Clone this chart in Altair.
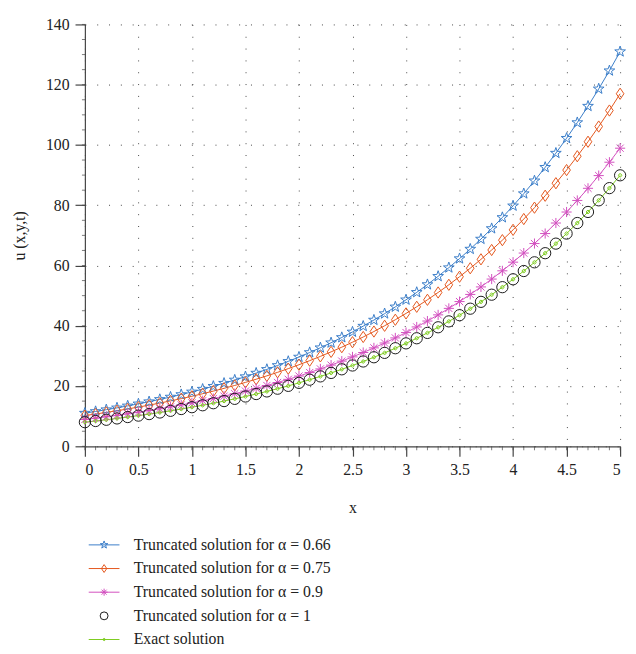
import altair as alt

# ---------------- data ----------------
x_vals = [round(i * 0.1, 1) for i in range(51)]

y_a066 = [11.00, 11.56, 12.15, 12.76, 13.41, 14.09, 14.81, 15.56, 16.35, 17.18,
          18.05, 18.97, 19.93, 20.94, 22.01, 23.12, 24.30, 25.53, 26.83, 28.19,
          29.62, 31.13, 32.71, 34.37, 36.12, 37.95, 39.88, 41.90, 44.03, 46.27,
          48.62, 51.09, 53.68, 56.41, 59.28, 62.29, 65.45, 68.78, 72.27, 75.94,
          79.80, 83.85, 88.11, 92.59, 97.29, 102.23, 107.43, 112.88, 118.62, 124.64,
          130.97]

y_a075 = [10.20, 10.71, 11.25, 11.81, 12.40, 13.02, 13.67, 14.35, 15.07, 15.82,
          16.61, 17.45, 18.32, 19.24, 20.20, 21.21, 22.27, 23.38, 24.55, 25.78,
          27.07, 28.42, 29.84, 31.34, 32.90, 34.55, 36.28, 38.09, 40.00, 42.00,
          44.10, 46.30, 48.62, 51.05, 53.60, 56.28, 59.09, 62.05, 65.15, 68.41,
          71.83, 75.42, 79.19, 83.15, 87.31, 91.67, 96.26, 101.07, 106.12, 111.43,
          117.00]

y_a090 = [8.90, 9.34, 9.80, 10.28, 10.79, 11.32, 11.88, 12.47, 13.08, 13.73,
          14.41, 15.12, 15.86, 16.65, 17.47, 18.33, 19.23, 20.18, 21.18, 22.22,
          23.32, 24.47, 25.68, 26.94, 28.27, 29.67, 31.13, 32.67, 34.28, 35.97,
          37.75, 39.61, 41.57, 43.62, 45.77, 48.03, 50.40, 52.89, 55.50, 58.24,
          61.11, 64.13, 67.29, 70.61, 74.10, 77.75, 81.59, 85.62, 89.84, 94.28,
          98.93]

y_a100 = [8.00, 8.40, 8.81, 9.25, 9.71, 10.19, 10.69, 11.22, 11.78, 12.37,
          12.98, 13.62, 14.30, 15.01, 15.75, 16.53, 17.35, 18.21, 19.12, 20.06,
          21.06, 22.10, 23.20, 24.35, 25.55, 26.82, 28.15, 29.55, 31.01, 32.55,
          34.16, 35.86, 37.63, 39.50, 41.46, 43.51, 45.67, 47.94, 50.31, 52.81,
          55.43, 58.17, 61.06, 64.09, 67.26, 70.60, 74.10, 77.77, 81.63, 85.68,
          89.93]

y_exact = [8.00, 8.40, 8.81, 9.25, 9.71, 10.19, 10.69, 11.22, 11.78, 12.37,
           12.98, 13.62, 14.30, 15.01, 15.75, 16.53, 17.35, 18.21, 19.12, 20.06,
           21.06, 22.10, 23.20, 24.35, 25.55, 26.82, 28.15, 29.55, 31.01, 32.55,
           34.16, 35.86, 37.63, 39.50, 41.46, 43.51, 45.67, 47.94, 50.31, 52.81,
           55.43, 58.17, 61.06, 64.09, 67.26, 70.60, 74.10, 77.77, 81.63, 85.68,
           89.93]

series_names = [
    "Truncated solution for α = 0.66",
    "Truncated solution for α = 0.75",
    "Truncated solution for α = 0.9",
    "Truncated solution for α = 1",
    "Exact solution",
]
line_keys = ["L1", "L2", "L3", "L4", "L5"]
series_values = [y_a066, y_a075, y_a090, y_a100, y_exact]
line_series = ["L1", "L2", "L3", "L5"]  # alpha = 1 is drawn with markers only

colors = ["#3a7dc8", "#e4561c", "#d24fbf", "#1a1a1a", "#7dcb1e"]
line_colors = ["#3a7dc8", "#e4561c", "#d24fbf", "transparent", "#7dcb1e"]
shapes = [
    "M0,-1L0.235,-0.324L0.951,-0.309L0.38,0.124L0.588,0.809L0,0.4"
    "L-0.588,0.809L-0.38,0.124L-0.951,-0.309L-0.235,-0.324Z",
    "M0,-1L0.68,0L0,1L-0.68,0Z",
    "M-0.9,0L0.9,0M0,-0.9L0,0.9M-0.64,-0.64L0.64,0.64M-0.64,0.64L0.64,-0.64",
    "circle",
    "M0.3,0L0.2,0.2L0,0.3L-0.2,0.2L-0.3,0L-0.2,-0.2L0,-0.3L0.2,-0.2Z",
]

x_ticks = [0, 0.5, 1, 1.5, 2, 2.5, 3, 3.5, 4, 4.5, 5]
y_ticks = [0, 20, 40, 60, 80, 100, 120, 140]
x_minor = [round(i * 0.1, 1) for i in range(51)]
y_minor = list(range(0, 141, 5))

records = []
for name, key, vals in zip(series_names, line_keys, series_values):
    for xv, yv in zip(x_vals, vals):
        records.append({"xv": xv, "yv": yv, "series": name, "lkey": key})
main_data = alt.Data(values=records)

FONT = "Liberation Serif"
W, H = 543, 428

xscale = alt.Scale(domain=[0, 5], nice=False, zero=False)
yscale = alt.Scale(domain=[0, 140], nice=False)

xenc = alt.X("xv:Q", scale=xscale,
             axis=alt.Axis(values=x_ticks, format="~g", title="x", titlePadding=22))
yenc = alt.Y("yv:Q", scale=yscale,
             axis=alt.Axis(values=y_ticks, title="u (x,y,t)", titlePadding=18))

legend_common = dict(title=None, orient="none", legendX=11.5, legendY=520,
                     symbolSize=64, symbolStrokeWidth=1, labelFont=FONT,
                     labelFontSize=16, labelColor="#222222", labelOffset=22,
                     rowPadding=8, padding=0, labelLimit=500)

lines = alt.Chart(main_data).transform_filter(
    alt.FieldOneOfPredicate(field="lkey", oneOf=line_series)
).mark_line(strokeWidth=1).encode(
    x=xenc, y=yenc,
    stroke=alt.Stroke("lkey:N",
                      scale=alt.Scale(domain=line_keys, range=line_colors),
                      legend=alt.Legend(symbolType="M-3.9,0L3.9,0", labelOpacity=0,
                                        **legend_common)),
)

points = alt.Chart(main_data).mark_point(filled=False, size=130, strokeWidth=1, opacity=1).encode(
    x=xenc, y=yenc,
    color=alt.Color("series:N",
                    scale=alt.Scale(domain=series_names, range=colors),
                    legend=alt.Legend(**legend_common)),
    shape=alt.Shape("series:N",
                    scale=alt.Scale(domain=series_names, range=shapes),
                    legend=alt.Legend(**legend_common)),
)

xminor = alt.Chart(alt.Data(values=[{"v": v} for v in x_minor])).mark_tick(
    color="#444444", thickness=1, size=4, orient="vertical", yOffset=2
).encode(x=alt.X("v:Q", scale=xscale), y=alt.value(H))
yminor = alt.Chart(alt.Data(values=[{"w": w} for w in y_minor])).mark_tick(
    color="#444444", thickness=1, size=4, orient="horizontal", xOffset=-1
).encode(y=alt.Y("w:Q", scale=yscale), x=alt.value(0))

chart = alt.layer(lines, points, xminor, yminor).properties(
    width=W, height=H,
    padding={"left": 4, "top": 4, "right": 0, "bottom": 0},
).configure_view(stroke=None).configure_axis(
    labelFont=FONT, labelFontSize=16, labelColor="#222222",
    titleFont=FONT, titleFontSize=16, titleFontWeight="normal", titleColor="#222222",
    domainColor="#444444", domainWidth=1.2, tickColor="#444444", tickSize=10, tickWidth=1.2,
    labelPadding=6, grid=True, gridColor="#333333", gridDash=[1, 11], gridWidth=1,
    gridOpacity=0.9,
).configure_legend(labelFont=FONT)

chart.save("out.html", embed_options={"renderer": "svg", "actions": False})
